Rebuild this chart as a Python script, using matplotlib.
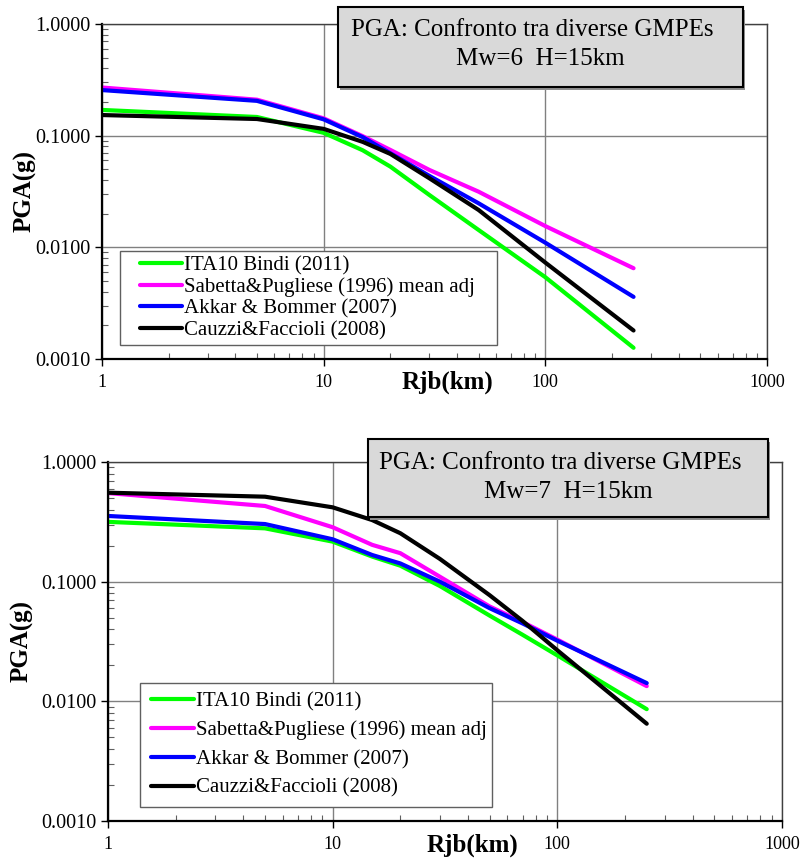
import numpy as np
import matplotlib.pyplot as plt
from matplotlib.patches import Rectangle
from matplotlib.lines import Line2D
from matplotlib.legend_handler import HandlerLine2D
from matplotlib.ticker import LogLocator, FormatStrFormatter, FuncFormatter, NullFormatter

plt.rcParams['font.family'] = ['Liberation Serif', 'DejaVu Serif']

# distanze Joyner-Boore (km) e PGA (g) per Mw=6
r6 = [1, 5, 10, 15, 20, 30, 50, 100, 250]
bindi6 = [0.17, 0.147, 0.106, 0.074, 0.0528, 0.0294, 0.0143, 0.0054, 0.00126]
sabetta6 = [0.27, 0.21, 0.143, 0.099, 0.0745, 0.0493, 0.0315, 0.0155, 0.0065]
akkar6 = [0.256, 0.205, 0.14, 0.097, 0.0695, 0.0436, 0.0248, 0.011, 0.0036]
cauzzi6 = [0.153, 0.141, 0.115, 0.088, 0.0686, 0.0415, 0.0216, 0.0073, 0.0018]

# Mw=7
r7 = [1, 5, 10, 15, 20, 30, 50, 70, 100, 250]
bindi7 = [0.316, 0.279, 0.216, 0.162, 0.136, 0.092, 0.052, 0.036, 0.0242, 0.0086]
sabetta7 = [0.55, 0.429, 0.285, 0.203, 0.173, 0.110, 0.062, 0.046, 0.0328, 0.0134]
akkar7 = [0.354, 0.303, 0.226, 0.167, 0.142, 0.100, 0.060, 0.0448, 0.0321, 0.0142]
cauzzi7 = [0.554, 0.513, 0.418, 0.327, 0.254, 0.155, 0.077, 0.047, 0.0267, 0.0065]

nomi = ['ITA10 Bindi (2011)', 'Sabetta&Pugliese (1996) mean adj',
        'Akkar & Bommer (2007)', 'Cauzzi&Faccioli (2008)']
colori = ['#00ff00', '#ff00ff', '#0000ff', '#000000']

W, H = 802, 860
fig = plt.figure(figsize=(W / 100, H / 100), dpi=100)


def grafico(rect, r, serie, titolo, box, righe_titolo, leg_box, leg_opts, ylab_x, xlab_pos):
    ax = fig.add_axes(rect)
    for y, c, n in zip(serie, colori, nomi):
        ax.plot(r, y, color=c, lw=3, label=n, solid_capstyle='round')
    ax.set_xscale('log')
    ax.set_yscale('log')
    ax.set_xlim(1, 1000)
    ax.set_ylim(0.001, 1)
    ax.grid(True, which='major', color='#808080', lw=1)
    ax.xaxis.set_major_locator(LogLocator(base=10, numticks=10))
    ax.yaxis.set_major_locator(LogLocator(base=10, numticks=10))
    ax.xaxis.set_minor_locator(LogLocator(base=10, subs=np.arange(2, 10), numticks=20))
    ax.yaxis.set_minor_locator(LogLocator(base=10, subs=np.arange(2, 10), numticks=20))
    ax.xaxis.set_major_formatter(FuncFormatter(lambda v, p: '%g' % v))
    ax.yaxis.set_major_formatter(FormatStrFormatter('%.4f'))
    ax.xaxis.set_minor_formatter(NullFormatter())
    ax.yaxis.set_minor_formatter(NullFormatter())
    ax.tick_params(which='major', direction='out', length=5, width=1)
    ax.tick_params(axis='x', which='major', labelsize=13, pad=6)
    ax.tick_params(axis='y', which='major', labelsize=14.5, pad=3)
    ax.tick_params(which='minor', direction='in', length=4, width=0.8, color='#606060')
    for s in ['left', 'bottom']:
        ax.spines[s].set_linewidth(1.6)
    for s in ['top', 'right']:
        ax.spines[s].set_color('#404040')
        ax.spines[s].set_linewidth(1)
    ax.set_ylabel('PGA(g)', fontsize=18, fontweight='bold')
    ax.yaxis.set_label_coords(ylab_x, 0.5)
    ax.set_xlabel('Rjb(km)', fontsize=18, fontweight='bold')
    ax.xaxis.set_label_coords(xlab_pos[0], xlab_pos[1])

    # riquadro del titolo con ombra
    x0, y0, x1, y1 = box
    fig.add_artist(Rectangle((x0 / W + 0.003, 1 - y1 / H - 0.003), (x1 - x0) / W, (y1 - y0) / H,
                             transform=fig.transFigure, facecolor='#909090', edgecolor='none', zorder=5))
    fig.add_artist(Rectangle((x0 / W, 1 - y1 / H), (x1 - x0) / W, (y1 - y0) / H,
                             transform=fig.transFigure, facecolor='#d9d9d9', edgecolor='black',
                             lw=1.5, zorder=6))
    xc = (x0 + x1) / 2 / W
    fig.text(xc - 0.01, 1 - righe_titolo[0] / H, titolo[0], ha='center', va='center',
             fontsize=18, zorder=7)
    fig.text(xc, 1 - righe_titolo[1] / H, titolo[1], ha='center', va='center',
             fontsize=18, zorder=7)

    lx0, ly0, lx1, ly1 = leg_box
    spacing, bpad, xpad, hlen = leg_opts
    leg = ax.legend(loc='upper left',
                    bbox_to_anchor=(lx0 / W, 1 - ly1 / H, (lx1 - lx0) / W, (ly1 - ly0) / H),
                    bbox_transform=fig.transFigure, mode='expand', fontsize=15, frameon=True,
                    fancybox=False, framealpha=1, edgecolor='#606060', handlelength=hlen,
                    handletextpad=0.1, labelspacing=spacing, borderpad=bpad, borderaxespad=0,
                    handler_map={Line2D: HandlerLine2D(xpad=xpad)})
    leg.get_frame().set_linewidth(1)
    return ax


grafico([102 / W, 1 - 359 / H, 665 / W, 335 / H], r6,
        [bindi6, sabetta6, akkar6, cauzzi6],
        ['PGA: Confronto tra diverse GMPEs', 'Mw=6  H=15km'],
        (338, 7, 743, 87), (30, 59), (120, 251, 497, 339), (0.09, 0.24, 0.72, 2.75),
        -0.098, (0.52, -0.035))

grafico([108 / W, 1 - 821 / H, 674 / W, 359 / H], r7,
        [bindi7, sabetta7, akkar7, cauzzi7],
        ['PGA: Confronto tra diverse GMPEs', 'Mw=7  H=15km'],
        (368, 439, 768, 517), (463, 492), (140, 683, 492, 802), (0.44, 0.43, 0.12, 2.15),
        -0.111, (0.54, -0.035))

fig.savefig('out.png', dpi=100)
